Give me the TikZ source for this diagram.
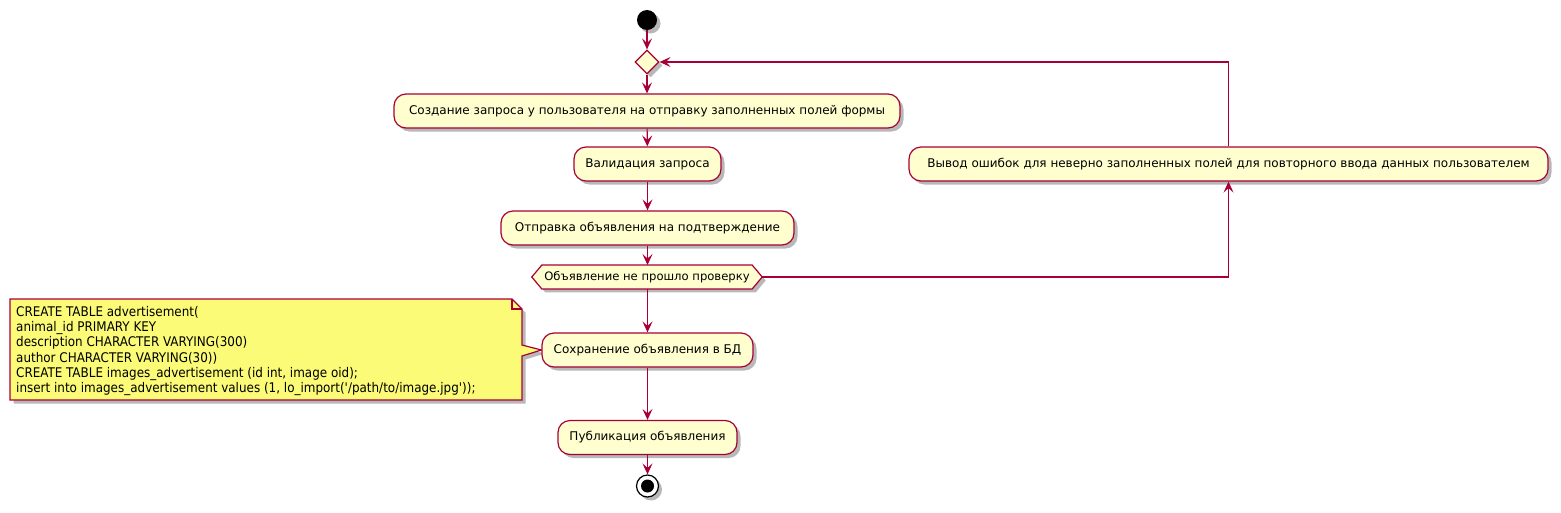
\documentclass[tikz,border=0pt]{standalone}
\usepackage{fontspec}
\setmainfont{DejaVu Sans}
\newfontfamily\notefont{DejaVu Sans Condensed}
\usetikzlibrary{arrows.meta,shadows,shapes.geometric,backgrounds,calc}
\definecolor{pumlred}{HTML}{A80036}
\definecolor{pumlfill}{HTML}{FEFECE}
\definecolor{notefill}{HTML}{FBFB77}
\begin{document}
\begin{tikzpicture}[x=1pt,y=-1pt,
  >={Stealth[length=11pt,width=10pt,inset=4.5pt]},
  shad/.style={drop shadow={shadow xshift=3.5pt,shadow yshift=-3.5pt,fill=black,opacity=0.28}},
  act/.style={draw=pumlred,fill=pumlfill,line width=1.2pt,rounded corners=12pt,
    minimum height=34pt,inner xsep=10pt,inner ysep=0pt,font=\fontsize{12}{14}\selectfont,shad},
  conn/.style={draw=pumlred,line width=1.1pt,->},
  startsty/.style={circle,fill=black,minimum size=20pt,inner sep=0pt,shad},
  stopsty/.style={circle,draw=black,line width=1.2pt,fill=white,minimum size=22pt,inner sep=0pt,shad,
    path picture={\fill[black] (path picture bounding box.center) circle (6.5pt);}},
  diam/.style={diamond,draw=pumlred,fill=pumlfill,line width=1.2pt,minimum width=24pt,minimum height=24pt,inner sep=0pt,shad},
  hextext/.style={font=\fontsize{11.6}{13}\selectfont,minimum width=210pt,minimum height=23.5pt,inner sep=0pt},
  hexsty/.style={draw=pumlred,fill=pumlfill,line width=1.2pt,shad},
  notesty/.style={draw=pumlred,fill=notefill,line width=1.2pt,shad},
  notetext/.style={font=\notefont\fontsize{13.3}{15.1}\selectfont,align=left,inner sep=0pt},
]
\useasboundingbox (0,0) rectangle (1561,512);

\node[startsty] (start) at (647,20) {};
\node[diam] (d1) at (647,62) {};
\node[act,minimum width=506pt] (a1) at (647,111) {Создание запроса у пользователя на отправку заполненных полей формы};
\node[act,minimum width=147pt] (a2) at (647.5,164) {Валидация запроса};
\node[act,minimum width=293pt] (a3) at (647.5,228) {Отправка объявления на подтверждение};
\node[hextext] (hx) at (647,277) {Объявление не прошло проверку};
\node[act,minimum width=211pt] (a4) at (647.5,350) {Сохранение объявления в БД};
\node[act,minimum width=179pt] (a5) at (647.5,437.5) {Публикация объявления};
\node[stopsty] (stop) at (647.5,486) {};
\node[act,minimum width=639pt] (err) at (1228.5,164) {Вывод ошибок для неверно заполненных полей для повторного ввода данных пользователем};

\node[notetext,anchor=west] (note) at (16,351) {CREATE TABLE advertisement(\\
animal\_id PRIMARY KEY\\
description CHARACTER VARYING(300)\\
author CHARACTER VARYING(30))\\
CREATE TABLE images\_advertisement (id int, image oid);\\
insert into images\_advertisement values (1, lo\_import(\textquotesingle/path/to/image.jpg\textquotesingle));};

\path (hx.east) ++(10,0) coordinate (hxE);
\path (hx.west) ++(-10,0) coordinate (hxW);

\begin{scope}[on background layer]
  \path[hexsty] (hx.north west) -- (hx.north east) -- (hxE) -- (hx.south east) -- (hx.south west) -- (hxW) -- cycle;
  \path[notesty] (10,299) -- (512,299) -- (522,309) -- (522,345) -- (a4.west) -- (522,356) -- (522,400) -- (10,400) -- cycle;
\end{scope}
\draw[pumlred,line width=1.2pt] (512,299) -- (512,309) -- (522,309);

\draw[conn] (start) -- (d1);
\draw[conn] (d1) -- (a1);
\draw[conn] (a1) -- (a2);
\draw[conn] (a2) -- (a3);
\draw[conn] (a3) -- (hx.north -| a3);
\draw[conn] (hx.south -| a4) -- (a4);
\draw[conn] (a4) -- (a5);
\draw[conn] (a5) -- (stop);
\draw[conn] (hxE) -| (err.south);
\draw[conn] (err.north) |- (d1.east);
\end{tikzpicture}
\end{document}
